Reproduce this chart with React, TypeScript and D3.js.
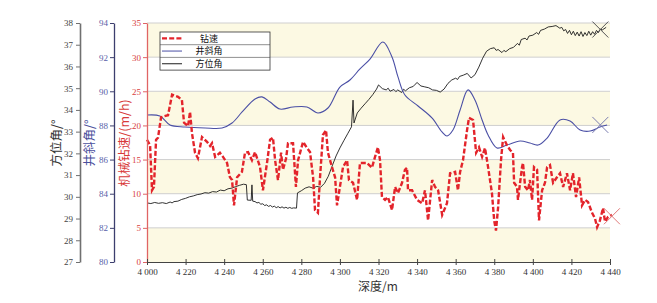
import React, { useEffect, useRef } from 'react'
import * as d3 from 'd3'

// tick values and labels (the first label reads "4 000" in the source figure)
const depthTicks = [4200, 4220, 4240, 4260, 4280, 4300, 4320, 4340, 4360, 4380, 4400, 4420, 4440]
const depthTickLabels = ['4 000', '4 220', '4 240', '4 260', '4 280', '4 300', '4 320', '4 340', '4 360', '4 380', '4 400', '4 420', '4 440']
const rateTicks = [0, 5, 10, 15, 20, 25, 30, 35]
const incTicks = [80, 82, 84, 86, 88, 90, 92, 94]
const aziTicks = [27, 28, 29, 30, 31, 32, 33, 34, 35, 36, 37, 38]

const legendNames = ['钻速', '井斜角', '方位角']

// 钻速 (m/h) vs depth
const rate: [number, number][] = [
  [4200, 17.9], [4201.6, 17.1], [4202.6, 10.5], [4203.6, 11], [4204.7, 17.9], [4205.7, 18.2], [4207.3, 21.2], [4210.9, 21.5], [4213, 24.5], [4216.1, 24.2],
  [4218.1, 23.7], [4219.2, 20.4], [4221.3, 19.9], [4222.3, 22], [4223.3, 18.9], [4224.9, 16], [4226.4, 15.2], [4228.5, 18.3], [4231.1, 17.6], [4232.7, 17],
  [4233.7, 17.4], [4235.3, 15.4], [4237.8, 16], [4239.4, 15.4], [4241.5, 14.5], [4243, 12.4], [4244.1, 12], [4245.1, 8.3], [4246.7, 12.4], [4249.2, 13.2],
  [4250.8, 16], [4252.4, 16.1], [4254.4, 14.9], [4256, 16.1], [4258.6, 13.9], [4260.1, 10.5], [4262.2, 14.5], [4263.8, 17.9], [4265.3, 18.2], [4266.4, 14.9],
  [4267.9, 12], [4269.5, 16], [4270.5, 13.5], [4272.1, 15.2], [4273.1, 17.4], [4275.7, 17.4], [4277.2, 11], [4278.3, 14.9], [4280.9, 17.6], [4282.9, 16.7],
  [4284.5, 16.1], [4286.1, 12.4], [4287.1, 7.6], [4288.6, 7.2], [4289.7, 12.4], [4291.2, 18.6], [4292.8, 19.3], [4293.8, 16], [4295.9, 13.9], [4297.5, 12.4],
  [4298.5, 8.3], [4300, 11], [4301.6, 13.9], [4303.7, 14.9], [4304.7, 12], [4306.8, 11.6], [4308.9, 9.1], [4310.4, 14.5], [4314, 14.5], [4316.6, 13.8],
  [4318.2, 15.4], [4319.7, 16.8], [4320.8, 14.9], [4321.8, 9.5], [4323.4, 9.1], [4324.9, 9.5], [4327, 7.6], [4328.6, 11], [4330.1, 10.1], [4332.2, 11.6],
  [4333.7, 13.5], [4334.8, 13.8], [4335.3, 10.5], [4337.4, 10.5], [4340, 9.1], [4342.6, 8.6], [4344.1, 10.5], [4345.7, 6.1], [4347.8, 12], [4349.3, 11],
  [4350.9, 10.5], [4353, 6.9], [4355.5, 8.6], [4357.1, 13], [4359.7, 13.2], [4361.2, 10.5], [4362.3, 13.2], [4363.8, 14.9], [4365.9, 19.3], [4366.9, 21.1],
  [4369, 20.8], [4370.6, 16], [4372.1, 16.8], [4373.7, 15.4], [4375.2, 16.7], [4376.8, 13.9], [4378.8, 10.1], [4380, 6], [4380.9, 4.6], [4382, 8],
  [4383.5, 14.9], [4384.6, 18.3], [4386.6, 17.1], [4388.2, 16.4], [4389.7, 16], [4390.3, 11.6], [4391.8, 11], [4392.3, 9.1], [4394.4, 13.9], [4394.9, 14.5],
  [4396, 11], [4397.5, 10.5], [4398.5, 12], [4399.6, 9.1], [4400.6, 13.9], [4402.2, 13.5], [4403.2, 6.1], [4404.8, 10.5], [4406.3, 11.6], [4407.4, 13.9],
  [4408.9, 14.2], [4410.5, 11.6], [4412.5, 12.4], [4414.1, 13], [4415.7, 11], [4417.7, 13], [4419.3, 10.5], [4420.8, 13], [4422.4, 9.5], [4424, 12.4],
  [4425.5, 8.3], [4427.1, 9.1], [4428.6, 8.8], [4430.7, 7.2], [4432.2, 6.4], [4433.3, 5.1], [4434.8, 6.1], [4436.4, 7.9], [4437.4, 5.9], [4439, 6.6],
  [4441, 6.9],
]

// 井斜角 (°) vs depth
const inclination: [number, number][] = [
  [4200, 88.61], [4206.7, 88.55], [4211.9, 88.03], [4219.7, 87.91], [4230.1, 87.85], [4238.9, 87.85], [4244.1, 88.14], [4249.3, 88.79], [4256, 89.55], [4259.6, 89.67],
  [4263.8, 89.37], [4268.9, 88.96], [4275.7, 89.08], [4282.9, 89.08], [4288.6, 88.73], [4293.8, 89.02], [4300, 90.25], [4305.2, 90.66], [4310.4, 91.31], [4315.6, 91.89],
  [4322.3, 92.89], [4327, 92.01], [4330.1, 90.84], [4333.7, 89.78], [4340.5, 89.14], [4347.7, 88.44], [4352.9, 87.62], [4355.5, 87.38], [4358.6, 87.73], [4362.3, 88.9],
  [4366.4, 90.08], [4370, 89.49], [4373.7, 88.32], [4376.8, 87.44], [4381.4, 86.68], [4386.6, 86.85], [4393.4, 87.09], [4398.5, 86.97], [4402.7, 86.85], [4407.4, 87.26],
  [4414.1, 88.32], [4419.3, 88.26], [4424.5, 87.73], [4429.7, 87.67], [4434.8, 87.91], [4438.5, 88.03],
]

// 方位角 (°) vs depth
const azimuth: [number, number][] = [
  [4200, 29.72], [4202, 29.69], [4204, 29.74], [4206, 29.7], [4208, 29.73], [4210, 29.69], [4212, 29.76], [4213, 29.72], [4214, 29.78], [4216, 29.8],
  [4218, 29.88], [4220, 29.93], [4222, 30], [4224, 30.04], [4226, 30.1], [4228, 30.13], [4230, 30.19], [4232, 30.17], [4234, 30.24], [4236, 30.22],
  [4238, 30.31], [4240, 30.28], [4242, 30.37], [4244, 30.4], [4246, 30.47], [4248, 30.53], [4250, 30.58], [4251.5, 30.56], [4252, 29.85], [4254, 29.84],
  [4254.4, 30.55], [4254.8, 29.8], [4256, 29.78], [4257, 29.72], [4258, 29.74], [4259, 29.66], [4260, 29.68], [4261, 29.6], [4262, 29.63], [4263, 29.56],
  [4264, 29.6], [4265, 29.53], [4266, 29.57], [4267, 29.5], [4268, 29.55], [4269, 29.49], [4270, 29.54], [4271, 29.48], [4272, 29.52], [4273, 29.47],
  [4274, 29.51], [4275, 29.47], [4276, 29.49], [4277.5, 29.48], [4278, 30.18], [4280, 30.28], [4282, 30.4], [4284, 30.46], [4286, 30.4], [4288, 30.48],
  [4290, 30.44], [4292, 30.62], [4294, 30.95], [4296, 31.42], [4298, 31.88], [4300, 32.25], [4302, 32.58], [4304, 32.9], [4306, 33.22], [4306.8, 34.45],
  [4307.3, 33.4], [4309, 33.86], [4311, 34.08], [4313, 34.28], [4315, 34.48], [4317, 34.7], [4319, 34.96], [4320, 35.15], [4322, 34.98], [4324, 34.92],
  [4325, 35], [4326, 34.86], [4328, 34.94], [4329, 34.84], [4330, 34.92], [4332, 34.8], [4333, 34.95], [4334, 34.88], [4336, 35.02], [4338, 35.08],
  [4339, 35.18], [4340, 35.26], [4342, 35.1], [4344, 35.06], [4346, 35.02], [4348, 34.92], [4350, 34.9], [4352, 34.82], [4354, 34.96], [4356, 35.22],
  [4358, 35.38], [4360, 35.46], [4361, 35.4], [4362, 35.54], [4364, 35.6], [4366, 35.68], [4368, 35.47], [4370, 35.62], [4372, 35.97], [4374, 36.38],
  [4376, 36.7], [4378, 36.82], [4380, 36.86], [4381, 36.74], [4382, 36.78], [4384, 36.64], [4385, 36.74], [4386, 36.68], [4388, 36.82], [4390, 36.88],
  [4392, 37.06], [4393, 36.98], [4394, 37.24], [4396, 37.3], [4397, 37.22], [4398, 37.4], [4400, 37.44], [4402, 37.56], [4403, 37.48], [4404, 37.66],
  [4406, 37.72], [4408, 37.82], [4410, 37.84], [4412, 37.88], [4414, 37.76], [4415, 37.8], [4416, 37.64], [4417, 37.7], [4418, 37.52], [4419, 37.66],
  [4420, 37.46], [4421, 37.62], [4422, 37.42], [4423, 37.58], [4424, 37.4], [4425, 37.6], [4426, 37.38], [4427, 37.56], [4428, 37.42], [4429, 37.62],
  [4430, 37.44], [4431, 37.6], [4432, 37.48], [4433, 37.66], [4434, 37.56], [4435, 37.72], [4436, 37.68], [4438, 37.8],
]

// end-of-series "x" markers: [depth, value] for 钻速, 井斜角, 方位角
const endMarks: [number, number][] = [[4441, 6.7], [4435, 88.03], [4435, 37.7]]

const serif = '"Liberation Serif", "DejaVu Serif", serif'
const cjk = '"Noto Sans CJK SC", sans-serif'

export default function App() {
  const ref = useRef<SVGSVGElement>(null)

  useEffect(() => {
    const svg = d3.select(ref.current)
    svg.selectAll('*').remove()

    let top = 23
    let bottom = 262
    let x = d3.scaleLinear().domain([4200, 4440]).range([147, 610])
    let yRate = d3.scaleLinear().domain([0, 35]).range([bottom, top])
    let yInc = d3.scaleLinear().domain([80, 94]).range([bottom, top])
    let yAzi = d3.scaleLinear().domain([27, 38]).range([bottom, top])

    // alternating background bands
    svg.append('g')
      .selectAll('rect')
      .data(d3.pairs(rateTicks))
      .enter().append('rect')
      .attr('x', x(4200))
      .attr('width', x(4440) - x(4200))
      .attr('y', d => yRate(d[1]))
      .attr('height', d => yRate(d[0]) - yRate(d[1]))
      .attr('fill', (d, i) => i % 2 === 0 ? '#fcf9e3' : '#ffffff')

    // grid lines
    svg.append('g')
      .selectAll('line')
      .data(rateTicks.slice(1))
      .enter().append('line')
      .attr('x1', x(4200)).attr('x2', x(4440))
      .attr('y1', d => yRate(d)).attr('y2', d => yRate(d))
      .attr('stroke', '#cfcfcf').attr('stroke-width', 1)

    // series
    svg.append('path')
      .datum(azimuth)
      .attr('fill', 'none')
      .attr('stroke', '#1c1c1c')
      .attr('stroke-width', 0.9)
      .attr('d', d3.line<[number, number]>().x(d => x(d[0])).y(d => yAzi(d[1])))

    svg.append('path')
      .datum(inclination)
      .attr('fill', 'none')
      .attr('stroke', '#4a4fa5')
      .attr('stroke-width', 1.1)
      .attr('d', d3.line<[number, number]>().x(d => x(d[0])).y(d => yInc(d[1])).curve(d3.curveCatmullRom))

    svg.append('path')
      .datum(rate)
      .attr('fill', 'none')
      .attr('stroke', '#e3242b')
      .attr('stroke-width', 2.4)
      .attr('stroke-dasharray', '5,2.2')
      .attr('d', d3.line<[number, number]>().x(d => x(d[0])).y(d => yRate(d[1])))

    // end markers
    let markScales = [yRate, yInc, yAzi]
    let markColors = ['#e07a7a', '#7b7db0', '#555555']
    endMarks.forEach(function (m, i) {
      let cx = x(m[0])
      let cy = markScales[i](m[1])
      let s = 8
      let g = svg.append('g').attr('stroke', markColors[i]).attr('stroke-width', 1)
      g.append('line').attr('x1', cx - s).attr('y1', cy - s).attr('x2', cx + s).attr('y2', cy + s)
      g.append('line').attr('x1', cx - s).attr('y1', cy + s).attr('x2', cx + s).attr('y2', cy - s)
    })

    // axes
    function styleAxis(g: any, lineColor: string, textColor: string, width: number) {
      g.select('.domain').attr('stroke', lineColor).attr('stroke-width', width)
      g.selectAll('.tick line').attr('stroke', lineColor).attr('stroke-width', 1)
      g.selectAll('.tick text').attr('fill', textColor).style('font-family', serif).style('font-size', '9px')
    }

    let aziAxis = svg.append('g')
      .attr('transform', 'translate(80,0)')
      .call(d3.axisLeft(yAzi).tickValues(aziTicks).tickSize(4).tickSizeOuter(0).tickPadding(3).tickFormat(d3.format('d')))
    styleAxis(aziAxis, '#707070', '#444444', 1.6)

    let incAxis = svg.append('g')
      .attr('transform', 'translate(114,0)')
      .call(d3.axisLeft(yInc).tickValues(incTicks).tickSize(4).tickSizeOuter(0).tickPadding(2).tickFormat(d3.format('d')))
    styleAxis(incAxis, '#3c3e6e', '#5a5fa8', 1.3)

    let rateAxis = svg.append('g')
      .attr('transform', 'translate(147,0)')
      .call(d3.axisLeft(yRate).tickValues(rateTicks).tickSize(4).tickSizeOuter(0).tickPadding(2).tickFormat(d3.format('d')))
    styleAxis(rateAxis, '#e06464', '#d84040', 1.3)

    let xAxis = svg.append('g')
      .attr('transform', 'translate(0,' + bottom + ')')
      .call(d3.axisBottom(x).tickValues(depthTicks).tickSize(3).tickSizeOuter(0).tickPadding(4)
        .tickFormat((d, i) => depthTickLabels[i]))
    styleAxis(xAxis, '#444444', '#333333', 1.2)
    xAxis.selectAll('.tick line').attr('y1', -3)

    // axis titles
    let titles = [
      { text: '方位角/°', x: 61, color: '#333333' },
      { text: '井斜角/°', x: 94, color: '#4b4f9c' },
      { text: '机械钻速/(m/h)', x: 129, color: '#d83a3a' },
    ]
    titles.forEach(function (t) {
      svg.append('text')
        .attr('transform', 'translate(' + t.x + ',' + 143 + ') rotate(-90)')
        .attr('text-anchor', 'middle')
        .attr('fill', t.color)
        .style('font-family', cjk)
        .style('font-size', '12.5px')
        .text(t.text)
    })

    svg.append('text')
      .attr('x', 378).attr('y', 291)
      .attr('text-anchor', 'middle')
      .attr('fill', '#333333')
      .style('font-family', cjk)
      .style('font-size', '12px')
      .text('深度/m')

    // legend
    let lx = 160, ly = 32, lw = 110, rowH = 12.7
    let legend = svg.append('g')
    legend.append('rect')
      .attr('x', lx).attr('y', ly).attr('width', lw).attr('height', rowH * 3)
      .attr('fill', '#ffffff').attr('stroke', '#333333').attr('stroke-width', 0.8)
    let legendStyles = [
      { color: '#e3242b', width: 2.4, dash: '5,2.2' },
      { color: '#4a4fa5', width: 1, dash: null },
      { color: '#1c1c1c', width: 1, dash: null },
    ]
    legendNames.forEach(function (name, i) {
      let cy = ly + rowH * i + rowH / 2
      if (i > 0) {
        legend.append('line')
          .attr('x1', lx).attr('x2', lx + lw)
          .attr('y1', ly + rowH * i).attr('y2', ly + rowH * i)
          .attr('stroke', '#444444').attr('stroke-width', 0.6)
      }
      legend.append('line')
        .attr('x1', lx + 2).attr('x2', lx + 22)
        .attr('y1', cy).attr('y2', cy)
        .attr('stroke', legendStyles[i].color)
        .attr('stroke-width', legendStyles[i].width)
        .attr('stroke-dasharray', legendStyles[i].dash)
      legend.append('text')
        .attr('x', lx + 49).attr('y', cy)
        .attr('dy', '0.36em')
        .attr('text-anchor', 'middle')
        .attr('fill', '#111111')
        .style('font-family', cjk)
        .style('font-size', '9px')
        .text(name)
    })
  }, [])

  return (
    <svg ref={ref} width={657} height={303} style={{ position: 'absolute', left: 0, top: 0, background: '#ffffff' }} />
  )
}
